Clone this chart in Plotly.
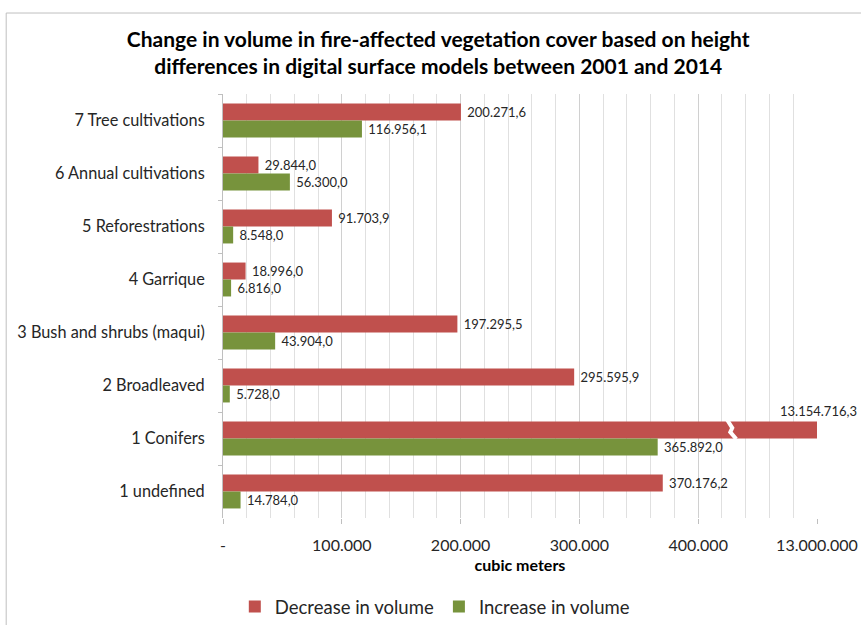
import plotly.graph_objects as go

# ---- data (top to bottom as shown) ----
categories = ["7 Tree cultivations", "6 Annual cultivations", "5 Reforestrations",
              "4 Garrique", "3 Bush and shrubs (maqui)", "2 Broadleaved",
              "1 Conifers", "1 undefined"]
decrease = [200271.6, 29844.0, 91703.9, 18996.0, 197295.5, 295595.9, 13154716.3, 370176.2]
increase = [116956.1, 56300.0, 8548.0, 6816.0, 43904.0, 5728.0, 365892.0, 14784.0]
tick_values = [0, 100000, 200000, 300000, 400000, 13000000]
tick_labels = ["-", "100.000", "200.000", "300.000", "400.000", "13.000.000"]

RED = "#C0504D"
GREEN = "#77933C"
FONT = "Lato"
TXT = "#262626"

# broken axis: 400.000 -> 13.000.000 compressed into one interval
BREAK_LO, BREAK_HI = 400000, 13000000
X_MAX = 500000


def axis_pos(v):
    if v <= BREAK_LO:
        return v
    return BREAK_LO + 100000 * (v - BREAK_LO) / (BREAK_HI - BREAK_LO)


def eu(v):
    s = f"{v:,.1f}"
    return s.replace(",", "X").replace(".", ",").replace("X", ".")


dec_pos = [axis_pos(v) for v in decrease]
inc_pos = [axis_pos(v) for v in increase]
dec_text = ["\u00a0" + eu(v) if v <= BREAK_LO else "" for v in decrease]
inc_text = ["\u00a0" + eu(v) for v in increase]

fig = go.Figure()
fig.add_trace(go.Bar(
    y=categories, x=dec_pos, orientation="h", name="Decrease in volume",
    marker=dict(color=RED, line=dict(width=0)),
    text=dec_text, textposition="outside", cliponaxis=False,
    textfont=dict(family=FONT, size=13, color=TXT),
    hoverinfo="skip"))
fig.add_trace(go.Bar(
    y=categories, x=inc_pos, orientation="h", name="Increase in volume",
    marker=dict(color=GREEN, line=dict(width=0)),
    text=inc_text, textposition="outside", cliponaxis=False,
    textfont=dict(family=FONT, size=13, color=TXT),
    hoverinfo="skip"))

BARGAP = 0.36
bw = (1 - BARGAP) / 2

annotations = []
shapes = []
for i, v in enumerate(decrease):
    if v > BREAK_LO:
        annotations.append(dict(
            x=axis_pos(v) / X_MAX, y=i - bw, xref="paper", yref="y", text=eu(v),
            showarrow=False, xanchor="center", yanchor="bottom", yshift=1,
            font=dict(family=FONT, size=13, color=TXT)))
        # break symbol across the bar
        bx = 427000
        px = 840  # data units per pixel
        top, bot = i - bw - 0.03, i + 0.01
        mid = i - bw / 2
        shapes.append(dict(
            type="path", xref="x", yref="y",
            path=(f"M {bx-3*px},{top} L {bx+2*px},{mid-0.04} "
                  f"L {bx},{mid+0.04} L {bx+6*px},{bot}"),
            line=dict(color="white", width=4)))

# outer frame
shapes.append(dict(type="rect", xref="paper", yref="paper",
                   x0=-0.365, x1=1.2, y0=-0.3, y1=1.191,
                   line=dict(color="#BFBFBF", width=1), fillcolor="rgba(0,0,0,0)",
                   layer="below"))

fig.update_layout(
    width=861, height=625,
    margin=dict(l=223, r=44, t=94, b=107, autoexpand=False),
    paper_bgcolor="white", plot_bgcolor="white",
    barmode="group", bargap=BARGAP, bargroupgap=0,
    font=dict(family=FONT, size=13, color=TXT),
    title=dict(
        text="<b>Change in volume in fire-affected vegetation cover based on height<br>"
             "differences in digital surface models between 2001 and 2014</b>",
        font=dict(family=FONT, size=21, color="#000000"),
        x=0.509, xref="container", xanchor="center",
        y=1 - 47 / 625, yref="container", yanchor="top"),
    xaxis=dict(
        range=[0, X_MAX], automargin=False,
        tickvals=[axis_pos(v) for v in tick_values], ticktext=tick_labels,
        tickfont=dict(family=FONT, size=16, color=TXT),
        ticks="outside", ticklen=5, tickcolor="#BFBFBF",
        ticklabelstandoff=8,
        showgrid=True, gridcolor="#D0D0D0", gridwidth=1,
        minor=dict(dtick=20000, tick0=0, showgrid=True, gridcolor="#E0E0E0", gridwidth=1),
        showline=False, zeroline=False,
        title=dict(text="<b>cubic meters</b>", standoff=6,
                   font=dict(family=FONT, size=16, color="#000000")),
        fixedrange=True),
    yaxis=dict(
        categoryorder="array", categoryarray=categories, autorange="reversed",
        automargin=False,
        tickfont=dict(family=FONT, size=16.3, color=TXT),
        ticks="outside", ticklen=4, tickcolor="#BFBFBF", tickson="boundaries",
        showline=True, linecolor="#BFBFBF", linewidth=1,
        showgrid=False, zeroline=False, ticklabelstandoff=14,
        fixedrange=True),
    legend=dict(
        orientation="h", x=0.505, xref="container", xanchor="center",
        y=1 - 607 / 625, yref="container", yanchor="middle",
        font=dict(family=FONT, size=18.5, color=TXT),
        traceorder="normal", itemwidth=30),
    annotations=annotations,
    shapes=shapes,
    showlegend=True,
)

fig.write_html("out.html",
               config={"displayModeBar": False},
               post_script="document.body.style.margin='0';document.body.style.overflow='hidden';")
